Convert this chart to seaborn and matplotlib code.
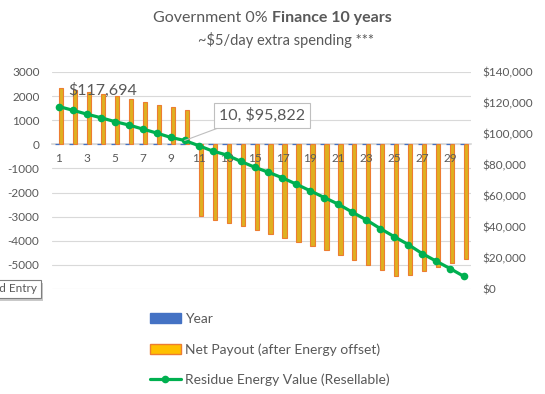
import numpy as np
import pandas as pd
import matplotlib
matplotlib.use("Agg")
import matplotlib.pyplot as plt
import matplotlib.patheffects as pe
from matplotlib.patches import Patch
from matplotlib.lines import Line2D
from matplotlib.ticker import FuncFormatter
import seaborn as sns

# Data
years = list(range(1, 31))
net_payout = [2350, 2250, 2180, 2090, 1990, 1880, 1760, 1640, 1560, 1440,
              -2980, -3140, -3260, -3390, -3550, -3710, -3880, -4040, -4210, -4380,
              -4590, -4800, -5000, -5210, -5460, -5400, -5270, -5100, -4940, -4770]
residue = [117694, 115300, 112800, 110500, 108000, 105800, 103200, 100600, 97800, 95822,
           92500, 89000, 86500, 82400, 78600, 75300, 71700, 67600, 63300, 59000,
           54700, 49600, 44600, 39000, 33800, 28700, 22900, 18000, 13200, 8100]
series_names = ["Year", "Net Payout (after Energy offset)", "Residue Energy Value (Resellable)"]
left_ticks = list(range(-6000, 3001, 1000))
right_ticks = list(range(0, 140001, 20000))

GREY = "#595959"
GRID = "#D9D9D9"
BLUE = "#4472C4"
ORANGE = "#FFC000"
ORANGE_EDGE = "#ED7D31"
GREEN = "#00B050"

sns.set_theme(style="white")
plt.rcParams["font.family"] = ["Lato", "DejaVu Sans"]

W, H = 545, 394
fig = plt.figure(figsize=(W / 100, H / 100), dpi=100)
ax = fig.add_axes([52 / W, 1 - 289 / H, (471 - 52) / W, (289 - 72) / H])

df = pd.DataFrame({
    "Year": years * 2,
    "series": [series_names[0]] * len(years) + [series_names[1]] * len(years),
    "value": years + net_payout,
})
sns.barplot(data=df, x="Year", y="value", hue="series", native_scale=True, width=0.6,
            palette={series_names[0]: BLUE, series_names[1]: ORANGE},
            errorbar=None, legend=False, ax=ax)
for p in ax.containers[0]:
    p.set_edgecolor(BLUE)
    p.set_linewidth(0.9)
    p.set_zorder(2)
for p in ax.containers[1]:
    p.set_edgecolor(ORANGE_EDGE)
    p.set_linewidth(0.8)

ax.set_xlim(0.5, 30.5)
ax.set_ylim(-6000, 3000)
ax.set_yticks(left_ticks)
ax.set_yticklabels(["" if v == -6000 else str(v) for v in left_ticks])
ax.set_xticks(years[::2])
ax.set_xticklabels([str(y) for y in years[::2]])
ax.set_xlabel("")
ax.set_ylabel("")
ax.yaxis.grid(True, color=GRID, linewidth=0.8)
ax.set_axisbelow(True)
ax.xaxis.set_zorder(3)
for s in ["top", "left", "right"]:
    ax.spines[s].set_visible(False)
ax.spines["bottom"].set_position(("data", 0))
ax.spines["bottom"].set_color(GRID)
ax.spines["bottom"].set_zorder(0.6)
ax.tick_params(axis="x", length=0, pad=6, labelsize=8.5, labelcolor=GREY)
ax.tick_params(axis="y", length=0, pad=9, labelsize=8.5, labelcolor=GREY)

# Residue value on secondary axis
ax2 = ax.twinx()
sns.lineplot(x=years, y=residue, ax=ax2, color=GREEN, linewidth=2.3,
             marker="o", markersize=5.5, markeredgewidth=0)
ax2.set_ylim(0, 140000)
ax2.set_yticks(right_ticks)
ax2.yaxis.set_major_formatter(FuncFormatter(lambda v, _: f"${v:,.0f}"))
ax2.set_ylabel("")
for s in ax2.spines.values():
    s.set_visible(False)
ax2.tick_params(axis="y", length=0, pad=8.5, labelsize=8.5, labelcolor=GREY)

# Data labels
ax2.annotate(f"${residue[0]:,.0f}", xy=(years[0], residue[0]), xytext=(9, 16),
             textcoords="offset pixels", fontsize=11.5, color=GREY, va="center", ha="left")
ax2.annotate(f"{years[9]}, ${residue[9]:,.0f}", xy=(years[9], residue[9]), xytext=(77, 25),
             textcoords="offset pixels", fontsize=11.5, color=GREY, va="center", ha="center",
             bbox=dict(boxstyle="square,pad=0.3", fc="white", ec="#BFBFBF", lw=0.8),
             arrowprops=dict(arrowstyle="-", color="#BFBFBF", lw=0.8, relpos=(0.15, 0),
                             shrinkA=0, shrinkB=0))

# Title with bold part
t1 = fig.text(0, 1 - 18 / H, "Government 0% ", fontsize=11.5, color=GREY, va="center", ha="left")
t2 = fig.text(0, 1 - 18 / H, "Finance 10 years", fontsize=11.5, color=GREY, va="center",
              ha="left", fontweight="bold")
fig.text(286 / W, 1 - 40 / H, "~$5/day extra spending ***", fontsize=10.5, color=GREY,
         va="center", ha="center")
fig.canvas.draw()
r = fig.canvas.get_renderer()
w1 = t1.get_window_extent(r).width
w2 = t2.get_window_extent(r).width
x0 = 272 - (w1 + w2) / 2
t1.set_x(x0 / W)
t2.set_x((x0 + w1) / W)

# Legend
handles = [Patch(facecolor=BLUE, edgecolor=BLUE),
           Patch(facecolor=ORANGE, edgecolor=ORANGE_EDGE),
           Line2D([], [], color=GREEN, lw=2.3, marker="o", markersize=5.5, markeredgewidth=0)]
fig.legend(handles, series_names, loc="upper left", bbox_to_anchor=(150 / W, 1 - 313 / H),
           frameon=False, fontsize=10, labelcolor=GREY, borderpad=0, borderaxespad=0,
           handlelength=2.2, handletextpad=0.3, labelspacing=1.3)

# Tooltip left over from the spreadsheet
tip = fig.text(37 / W, 1 - 289 / H, "Legend Entry", fontsize=8.5, color=GREY, ha="right",
               va="center", bbox=dict(boxstyle="square,pad=0.3", fc="white", ec="#7F7F7F", lw=0.8))
tip.get_bbox_patch().set_path_effects([pe.SimplePatchShadow(offset=(2, -2), alpha=0.3), pe.Normal()])

fig.savefig("out.png", dpi=100, facecolor="white")
